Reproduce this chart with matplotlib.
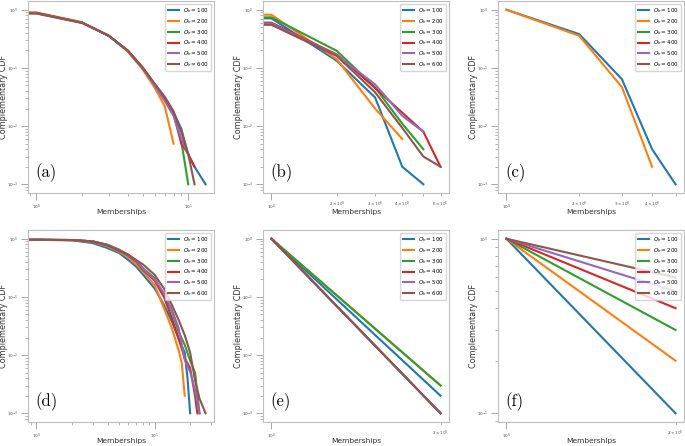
import matplotlib.pyplot as plt
from matplotlib.ticker import LogLocator

# legend values of O_h
oh_values = [100, 200, 300, 400, 500, 600]
panel_tags = ['(a)', '(b)', '(c)', '(d)', '(e)', '(f)']

# (a) -- x = memberships, y = complementary CDF
a_x = [
    [0, 1, 2, 3, 4, 5, 6, 7, 8, 9, 10, 11, 13],
    [0, 1, 2, 3, 4, 5, 6, 7, 8],
    [0, 1, 2, 3, 4, 5, 6, 7, 8, 9, 10],
    [0, 1, 2, 3, 4, 5, 6, 7, 8, 9, 10, 11],
    [0, 1, 2, 3, 4, 5, 6, 7, 8, 9, 10],
    [0, 1, 2, 3, 4, 5, 6, 7, 8, 9, 10, 11],
]
a_y = [
    [1, 0.88, 0.60, 0.356, 0.196, 0.10, 0.052, 0.030, 0.017, 0.009, 0.0032, 0.002, 0.001],
    [1, 0.90, 0.61, 0.356, 0.19, 0.095, 0.046, 0.022, 0.005],
    [1, 0.88, 0.60, 0.356, 0.196, 0.10, 0.052, 0.030, 0.017, 0.0055, 0.001],
    [1, 0.88, 0.60, 0.356, 0.196, 0.10, 0.052, 0.029, 0.016, 0.005, 0.0033, 0.002],
    [1, 0.87, 0.60, 0.356, 0.196, 0.10, 0.050, 0.027, 0.015, 0.006, 0.0033],
    [1, 0.86, 0.59, 0.356, 0.20, 0.103, 0.054, 0.032, 0.018, 0.008, 0.0033, 0.001],
]

# (b)
b_x = [
    [0, 1, 2, 3, 4, 5],
    [0, 1, 2, 3, 4],
    [0, 1, 2, 3, 4, 5],
    [0, 1, 2, 3, 4, 5, 6],
    [0, 1, 2, 3, 4, 5],
    [0, 1, 2, 3, 4, 5, 6],
]
b_y = [
    [1, 0.71, 0.132, 0.031, 0.002, 0.001],
    [1, 0.82, 0.14, 0.020, 0.006],
    [1, 0.74, 0.196, 0.046, 0.011, 0.004],
    [1, 0.60, 0.17, 0.045, 0.017, 0.008, 0.002],
    [1, 0.58, 0.165, 0.052, 0.015, 0.008],
    [1, 0.55, 0.16, 0.038, 0.0093, 0.003, 0.002],
]

# (c) only O_h = 100 and 200 have points
c_x = [[1, 2, 3, 4, 5], [1, 2, 3, 4], [], [], [], []]
c_y = [
    [1, 0.38, 0.064, 0.004, 0.001],
    [1, 0.356, 0.047, 0.002],
    [], [], [], [],
]

# (d)
d_x = [
    [0, 1, 2, 3, 4, 5, 6, 7, 8, 10, 12, 14, 16, 18, 19, 20],
    [0, 1, 2, 3, 4, 5, 6, 7, 8, 10, 12, 14, 16, 17, 18],
    [0, 1, 2, 3, 4, 5, 6, 7, 8, 10, 12, 14, 16, 18, 20, 22, 24],
    [0, 1, 2, 3, 4, 5, 6, 7, 8, 10, 12, 14, 16, 18, 20, 22, 23],
    [0, 1, 2, 3, 4, 5, 6, 7, 8, 10, 12, 14, 16, 18, 20, 22, 24],
    [0, 1, 2, 3, 4, 5, 6, 7, 8, 10, 12, 14, 16, 18, 20, 22, 24, 27],
]
d_y = [
    [1, 0.96, 0.94, 0.84, 0.69, 0.57, 0.43, 0.33, 0.24, 0.14, 0.073, 0.038, 0.019, 0.011, 0.004, 0.001],
    [1, 0.96, 0.94, 0.88, 0.74, 0.60, 0.48, 0.36, 0.27, 0.16, 0.064, 0.029, 0.012, 0.0072, 0.002],
    [1, 0.96, 0.95, 0.90, 0.79, 0.65, 0.53, 0.42, 0.31, 0.21, 0.108, 0.056, 0.025, 0.015, 0.008, 0.005, 0.001],
    [1, 0.96, 0.95, 0.90, 0.77, 0.64, 0.51, 0.40, 0.29, 0.19, 0.10, 0.043, 0.019, 0.0088, 0.006, 0.002, 0.001],
    [1, 0.96, 0.95, 0.90, 0.78, 0.65, 0.52, 0.41, 0.30, 0.20, 0.115, 0.060, 0.029, 0.0082, 0.0052, 0.0025, 0.001],
    [1, 0.96, 0.95, 0.90, 0.77, 0.62, 0.53, 0.43, 0.36, 0.24, 0.14, 0.073, 0.040, 0.022, 0.011, 0.0037, 0.0018, 0.001],
]

# (e)
e_x = [[1, 2]] * 6
e_y = [
    [1, 0.002], [1, 0.003], [1, 0.003],
    [1, 0.001], [1, 0.001], [1, 0.001],
]

# (f)
f_x = [[1, 2]] * 6
f_y = [
    [1, 0.1], [1, 0.2], [1, 0.3],
    [1, 0.4], [1, 0.5], [1, 0.6],
]

all_x = [a_x, b_x, c_x, d_x, e_x, f_x]
all_y = [a_y, b_y, c_y, d_y, e_y, f_y]

fig, axes = plt.subplots(2, 3, figsize=(6.85, 4.46), dpi=100)
fig.subplots_adjust(left=28 / 685, right=684 / 685, bottom=24 / 446, top=445 / 446,
                    wspace=49 / 186, hspace=37 / 192)

for i, (ax, tag, xs, ys) in enumerate(zip(axes.flat, panel_tags, all_x, all_y)):
    ax.set_xscale('log')
    ax.set_yscale('log')
    for x, y, oh in zip(xs, ys, oh_values):
        ax.plot(x, y, lw=1.5, label=r'$O_h = %d$' % oh)
    if i >= 4:
        # only the 2x10^0 tick on the short x range
        ax.xaxis.set_minor_locator(LogLocator(subs=(2.0,)))
    for s in ax.spines.values():
        s.set_color('0.75')
        s.set_linewidth(0.8)
    ax.tick_params(which='major', length=5, width=0.6, color='0.6', labelsize=3,
                   labelcolor='0.3', pad=2)
    ax.tick_params(which='minor', length=2.5, width=0.5, color='0.6', labelsize=3,
                   labelcolor='0.3', pad=2)
    ax.set_xlabel('Memberships', fontsize=5.4, color='0.2')
    ax.set_ylabel('Complementary CDF', fontsize=5.8, color='0.2')
    ax.xaxis.set_label_coords(0.5, -0.085)
    ax.yaxis.set_label_coords(-0.105, 0.5)
    ax.legend(loc='upper right', fontsize=4, labelspacing=0.35, edgecolor='0.8',
              framealpha=0.8)
    ax.text(0.04, 0.08, tag, transform=ax.transAxes, fontsize=12, family='cmr10')

fig.savefig('out.png', dpi=100)
